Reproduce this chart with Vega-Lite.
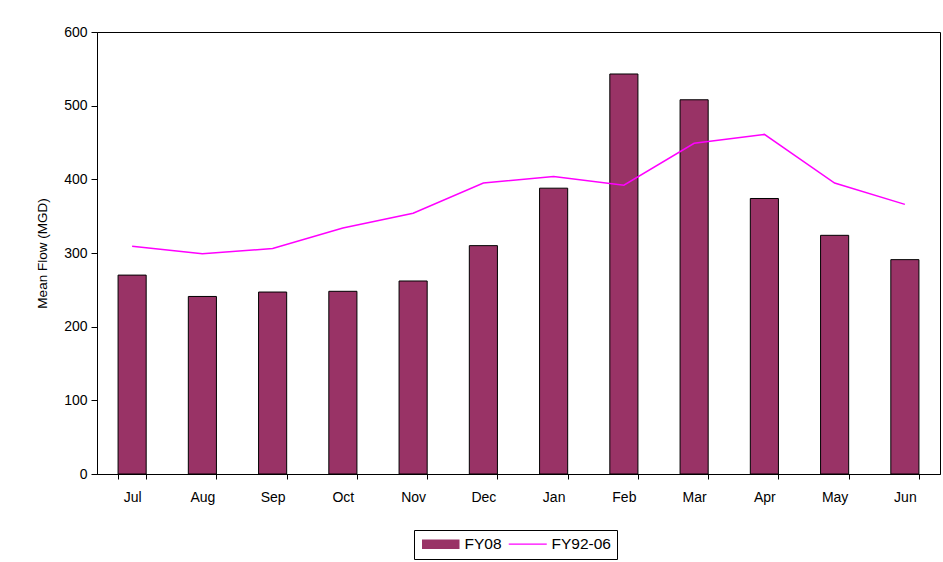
{
  "$schema": "https://vega.github.io/schema/vega-lite/v6.json",
  "width": 843,
  "height": 442,
  "autosize": {"type": "none"},
  "padding": {"left": 97, "top": 32, "right": 3, "bottom": 88},
  "background": "white",
  "config": {
    "font": "Liberation Sans",
    "view": {"stroke": "black", "strokeWidth": 1},
    "axis": {"labelFont": "Liberation Sans", "titleFont": "Liberation Sans", "labelColor": "black", "titleColor": "black", "domainColor": "black", "tickColor": "black", "grid": false}
  },
  "data": {
    "values": [
      {"month": "Jul", "series": "FY08", "flow": 270},
      {"month": "Aug", "series": "FY08", "flow": 241},
      {"month": "Sep", "series": "FY08", "flow": 247},
      {"month": "Oct", "series": "FY08", "flow": 248},
      {"month": "Nov", "series": "FY08", "flow": 262},
      {"month": "Dec", "series": "FY08", "flow": 310},
      {"month": "Jan", "series": "FY08", "flow": 388},
      {"month": "Feb", "series": "FY08", "flow": 543},
      {"month": "Mar", "series": "FY08", "flow": 508},
      {"month": "Apr", "series": "FY08", "flow": 374},
      {"month": "May", "series": "FY08", "flow": 324},
      {"month": "Jun", "series": "FY08", "flow": 291},
      {"month": "Jul", "series": "FY92-06", "flow": 309},
      {"month": "Aug", "series": "FY92-06", "flow": 299},
      {"month": "Sep", "series": "FY92-06", "flow": 306},
      {"month": "Oct", "series": "FY92-06", "flow": 334},
      {"month": "Nov", "series": "FY92-06", "flow": 354},
      {"month": "Dec", "series": "FY92-06", "flow": 395},
      {"month": "Jan", "series": "FY92-06", "flow": 404},
      {"month": "Feb", "series": "FY92-06", "flow": 392},
      {"month": "Mar", "series": "FY92-06", "flow": 449},
      {"month": "Apr", "series": "FY92-06", "flow": 461},
      {"month": "May", "series": "FY92-06", "flow": 395},
      {"month": "Jun", "series": "FY92-06", "flow": 366}
    ]
  },
  "encoding": {
    "x": {
      "field": "month", "type": "nominal", "sort": null,
      "scale": {"paddingInner": 0.6, "paddingOuter": 0.3},
      "axis": {"title": null, "labelAngle": 0, "labelFontSize": 14, "labelPadding": 11, "tickBand": "extent", "tickSize": 5, "domainColor": "black"}
    },
    "y": {
      "field": "flow", "type": "quantitative",
      "scale": {"domain": [0, 600], "nice": false},
      "axis": {"title": "Mean Flow (MGD)", "titleFontSize": 13.5, "titleFontWeight": "normal", "titlePadding": 14, "labelFontSize": 14, "labelOverlap": false, "values": [0, 100, 200, 300, 400, 500, 600], "tickSize": 6, "labelPadding": 4}
    },
    "color": {
      "field": "series", "type": "nominal",
      "scale": {"domain": ["FY08", "FY92-06"], "range": ["#993366", "#FF00FF"]},
      "legend": {
        "title": null,
        "orient": "none",
        "direction": "horizontal",
        "legendX": 317,
        "legendY": 498,
        "strokeColor": "black",
        "padding": 6,
        "labelFontSize": 15.5,
        "labelFont": "Liberation Sans",
        "labelColor": "black",
        "symbolSize": 100,
        "symbolOffset": 13,
        "symbolStrokeWidth": 1,
        "columnPadding": 4,
        "labelOffset": 16,
        "encode": {
          "symbols": {
            "update": {
              "shape": {"signal": "datum.value === 'FY08' ? 'M-3.6,-0.8H3.6V0.8H-3.6Z' : 'M-3.8,0H3.8'"},
              "stroke": {"signal": "datum.value === 'FY08' ? 'black' : '#FF00FF'"},
              "strokeWidth": {"signal": "datum.value === 'FY08' ? 1.5 : 1.2"},
              "fill": {"signal": "datum.value === 'FY08' ? '#993366' : 'transparent'"},
              "opacity": {"value": 1},
              "fillOpacity": {"value": 1}
            }
          }
        }
      }
    }
  },
  "layer": [
    {
      "transform": [{"filter": "datum.series === 'FY08'"}],
      "mark": {"type": "bar", "stroke": "black", "strokeWidth": 1, "opacity": 1}
    },
    {
      "transform": [{"filter": "datum.series === 'FY92-06'"}],
      "mark": {"type": "line", "strokeWidth": 1.5}
    }
  ]
}
